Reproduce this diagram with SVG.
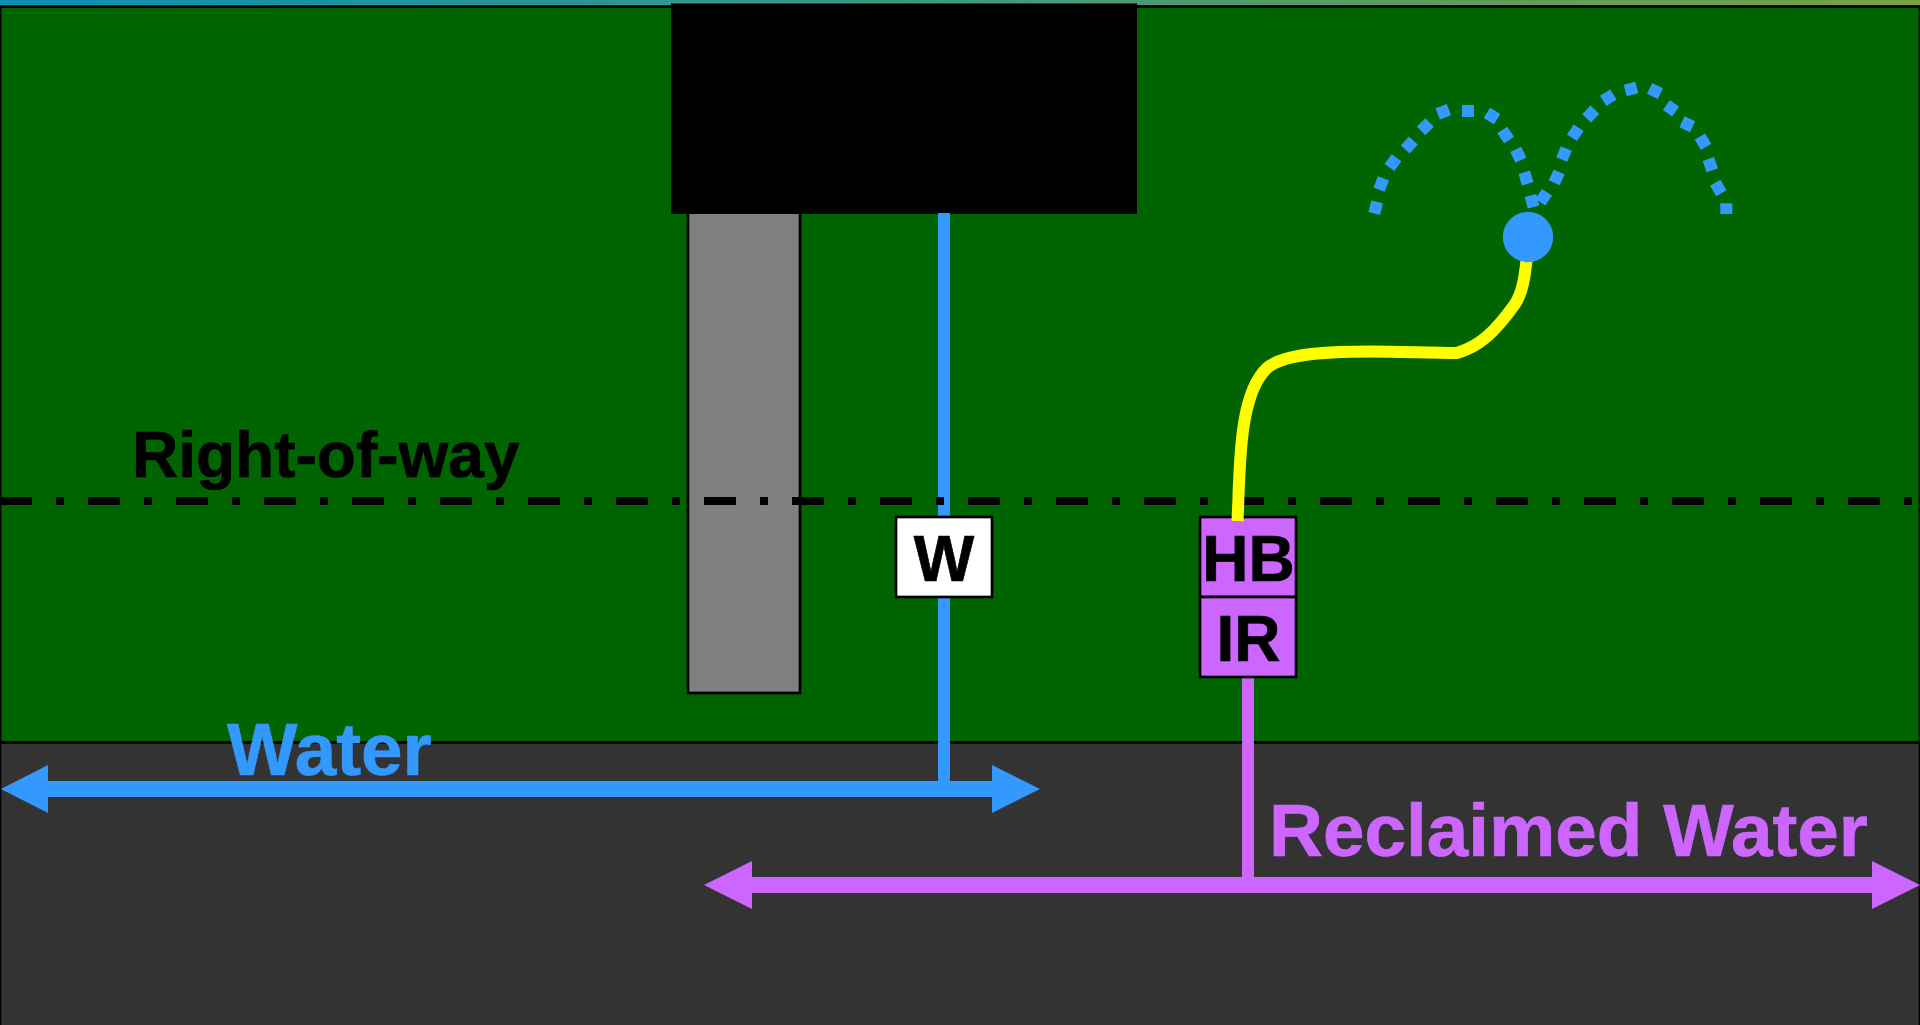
<svg xmlns="http://www.w3.org/2000/svg" width="1920" height="1025" viewBox="0 0 1920 1025">
<defs>
<linearGradient id="sky" x1="0" y1="0" x2="1" y2="0"><stop offset="0" stop-color="#0a90b4"/><stop offset="1" stop-color="#7aa044"/></linearGradient>
</defs>
<style>
.o{stroke:#000;stroke-width:2.67}
.t{font-family:"Liberation Sans",Arial,sans-serif;font-weight:700;stroke-width:.7}
.b{font-size:64px;fill:#000;stroke:#000;text-anchor:middle}
.spray{stroke:#39f;stroke-width:12;fill:none}
</style>
<rect id="sky-band" width="1920" height="8" fill="url(#sky)"/>
<g id="lawn"><rect x="0" y="6.500" width="1920" height="736" fill="#006400" class="o"/></g>
<g id="road"><rect x="0" y="742.500" width="1920" height="284" fill="#333" class="o"/></g>
<g id="driveway"><rect x="688" y="212" width="112" height="481" fill="#808080" class="o"/></g>
<g id="building"><rect x="671" y="3.500" width="466" height="210.500" fill="#000"/></g>
<g id="connectors" fill="none">
<path d="M944 213V785" stroke="#39f" stroke-width="12"/>
<path d="M1248 677V885" stroke="#c6f" stroke-width="12"/>
<path d="M0 501H1920" stroke="#000" stroke-width="8" stroke-dasharray="32 24 8 24"/>
<path d="M47 789H993" stroke="#39f" stroke-width="16"/>
<path d="M1 789L48 765V813Z" fill="#39f"/>
<path d="M1040 789L992 765V813Z" fill="#39f"/>
<path d="M750 885H1875" stroke="#c6f" stroke-width="16"/>
<path d="M704 885L752 861V909Z" fill="#c6f"/>
<path d="M1920 885L1872 861V909Z" fill="#c6f"/>
</g>
<g id="node-w"><rect x="896" y="517" width="96" height="80" fill="#fff" class="o"/><text class="t b" x="944" y="581">W</text></g>
<g id="node-hb"><rect x="1200" y="517" width="96" height="80" fill="#c6f" class="o"/><text class="t b" x="1248.500" y="581">HB</text></g>
<g id="node-ir"><rect x="1200" y="597" width="96" height="80" fill="#c6f" class="o"/><text class="t b" x="1248.500" y="661">IR</text></g>
<g id="hose"><path d="M1237.500 521C1240 470 1238 395 1267 368C1285 352 1340 351.500 1370 351.500C1400 351.500 1430 353 1457 353C1480 346 1495 332 1515 304C1523 292 1525 275 1527 256" fill="none" stroke="#ff0" stroke-width="12"/></g>
<g id="spray">
<path class="spray" d="M1540.400 202.300L1547 192.300M1554.200 182.700L1559.200 171.900M1561.700 159.500L1566.300 148.500M1572 137.700L1578.600 127.700M1586.600 118.400L1594.800 109.600M1603.200 100.900L1613.400 94.500M1625.200 90.500L1636.800 87.500M1649.600 88.400L1660.400 93.600M1666.400 105L1675.600 111.600M1682 121.800L1692.600 126.800M1700 136.500L1706 146.900M1708.400 159L1712.200 170.400M1715.300 182.800L1721.300 193.200M1726.300 203.200V214"/>
<path class="spray" d="M1374.300 213.500L1377.100 201.900M1379.100 189.600L1383.500 178.400M1389.500 167.600L1396.500 157.800M1405.300 149.500L1413.300 140.500M1421 130.900L1429.600 122.500M1437.700 113.800L1448.900 109.600M1462 111H1474M1486.900 112.800L1497.100 119.200M1502.300 130L1509.100 140M1515.700 149.300L1520.900 160.100M1524.300 172.200L1527.700 183.800M1530.500 195.500L1533.500 207.100"/>
</g>
<g id="sprinkler"><circle cx="1528" cy="237" r="25.200" fill="#39f"/></g>
<g id="labels">
<text class="t" x="132" y="477" font-size="64" fill="#000" stroke="#000">Right-of-way</text>
<text class="t" x="227" y="775" font-size="74.670" fill="#39f" stroke="#39f">Water</text>
<text class="t" x="1269" y="856" font-size="74.670" fill="#c6f" stroke="#c6f">Reclaimed Water</text>
</g>
</svg>
